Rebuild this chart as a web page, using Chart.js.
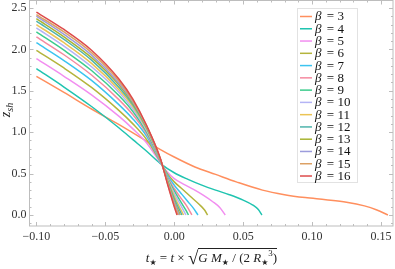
<!DOCTYPE html>
<html>
<head>
<meta charset="utf-8">
<script src="https://cdn.jsdelivr.net/npm/chart.js@4.4.1/dist/chart.umd.min.js"></script>
<style>
  body { margin: 0; background: #fff; }
  #wrap { position: relative; width: 395px; height: 269px; overflow: hidden; }
  #ytitle {
    position: absolute; left: -14px; top: 102px; width: 40px; height: 16px;
    transform: rotate(-90deg); text-align: center;
    font-family: "Liberation Serif", "Times New Roman", Times, serif; font-size: 14px; line-height: 16px; color: #222;
  }
  #ytitle sub { font-size: 10px; font-style: italic; vertical-align: -3px; line-height: 0; }
  #xtitle {
    position: absolute; left: 30px; width: 363px; top: 250px; text-align: center;
    font-family: "Liberation Serif", "Times New Roman", Times, serif; font-size: 13px; line-height: 16px; color: #222;
    white-space: nowrap;
  }
  #xtitle sub { font-size: 8px; vertical-align: -3px; line-height: 0; font-family: "DejaVu Sans", sans-serif; }
  #xtitle sup { font-size: 9px; vertical-align: 6px; line-height: 0; }
  .rt { font-size: 19px; line-height: 0; vertical-align: -2px; }
  .rad { border-top: 1px solid #222; padding-top: 1px; }
</style>
</head>
<body>
<div id="wrap">
  <canvas id="chart" width="395" height="269"></canvas>
  <div id="ytitle"><i>z</i><sub>sh</sub></div>
  <div id="xtitle"><i>t</i><sub>★</sub> = <i>t</i> × <span class="rt">√</span><span class="rad"><i>G</i> <i>M</i><sub>★</sub> / (2 <i>R</i><sub>★</sub><sup>3</sup>)</span></div>
</div>
<script>
// valores de beta e as curvas z_sh(t*)
const betas = [3, 4, 5, 6, 7, 8, 9, 10, 11, 12, 13, 14, 15, 16];
const colors = ['#ff8f5e', '#20c4b0', '#f28ef0', '#b4b43c', '#3cc4f0', '#f58aa0', '#3ccc8c',
                '#b4b4f5', '#ebc455', '#4fb4ac', '#a8b432', '#9c9cdc', '#dca064', '#dd4b4b'];

const xTickVals = [-0.1, -0.05, 0, 0.05, 0.1, 0.15];
const yTickVals = [0, 0.5, 1, 1.5, 2, 2.5];

const tPre = [-0.1, -0.08, -0.06, -0.04, -0.03, -0.02, -0.01, -0.005, 0.0];

const t3 = [-0.1, -0.08, -0.06, -0.04, -0.02, -0.01, 0.0, 0.015, 0.03, 0.045, 0.064, 0.08, 0.095, 0.11, 0.125, 0.138, 0.147, 0.155];
const z3 = [1.675, 1.48, 1.28, 1.09, 0.89, 0.79, 0.70, 0.58, 0.49, 0.40, 0.30, 0.245, 0.21, 0.185, 0.155, 0.11, 0.06, 0.0];

const t4 = [-0.1, -0.08, -0.06, -0.04, -0.03, -0.02, -0.01, 0.0, 0.01, 0.02, 0.03, 0.04, 0.05, 0.057, 0.061, 0.0636];
const z4 = [1.767, 1.545, 1.31, 1.05, 0.91, 0.77, 0.62, 0.51, 0.43, 0.36, 0.30, 0.245, 0.18, 0.12, 0.065, 0.0];

const t5 = [...tPre, 0.007, 0.014, 0.021, 0.028, 0.033, 0.037];
const z5 = [1.888, 1.675, 1.45, 1.19, 1.04, 0.87, 0.63, 0.52, 0.44, 0.37, 0.31, 0.24, 0.16, 0.09, 0.0];

const t6 = [...tPre, 0.006, 0.012, 0.018, 0.022, 0.0242];
const z6 = [1.988, 1.775, 1.54, 1.26, 1.10, 0.91, 0.64, 0.50, 0.40, 0.31, 0.22, 0.13, 0.06, 0.0];

const t7 = [...tPre, 0.005, 0.01, 0.014, 0.0172];
const z7 = [2.08, 1.865, 1.625, 1.33, 1.16, 0.95, 0.645, 0.48, 0.36, 0.26, 0.16, 0.08, 0.0];

const t8 = [...tPre, 0.005, 0.009, 0.0128];
const z8 = [2.15, 1.935, 1.69, 1.39, 1.21, 0.98, 0.65, 0.46, 0.32, 0.20, 0.11, 0.0];

const t9 = [...tPre, 0.004, 0.008, 0.0104];
const z9 = [2.21, 1.99, 1.745, 1.44, 1.25, 1.00, 0.655, 0.45, 0.29, 0.18, 0.07, 0.0];

const t10 = [...tPre, 0.004, 0.0085];
const z10 = [2.26, 2.04, 1.79, 1.48, 1.28, 1.02, 0.66, 0.44, 0.26, 0.14, 0.0];

const t11 = [...tPre, 0.004, 0.0068];
const z11 = [2.30, 2.08, 1.83, 1.51, 1.31, 1.035, 0.665, 0.43, 0.23, 0.09, 0.0];

const t12 = [...tPre, 0.003, 0.0056];
const z12 = [2.34, 2.12, 1.87, 1.54, 1.33, 1.05, 0.665, 0.42, 0.20, 0.09, 0.0];

const t13 = [...tPre, 0.0043];
const z13 = [2.37, 2.15, 1.90, 1.57, 1.35, 1.06, 0.67, 0.41, 0.17, 0.0];

const t14 = [...tPre, 0.0036];
const z14 = [2.40, 2.18, 1.93, 1.59, 1.365, 1.07, 0.67, 0.40, 0.15, 0.0];

const t15 = [...tPre, 0.0029];
const z15 = [2.42, 2.21, 1.96, 1.615, 1.38, 1.075, 0.675, 0.39, 0.12, 0.0];

const t16 = [...tPre, 0.002];
const z16 = [2.45, 2.24, 1.99, 1.64, 1.40, 1.08, 0.68, 0.38, 0.10, 0.0];

const tList = [t3, t4, t5, t6, t7, t8, t9, t10, t11, t12, t13, t14, t15, t16];
const zList = [z3, z4, z5, z6, z7, z8, z9, z10, z11, z12, z13, z14, z15, z16];

const datasets = betas.map(function(b, i) {
  return {
    label: 'β = ' + b,
    data: tList[i].map(function(t, k) { return { x: t, y: zList[i][k] }; }),
    borderColor: colors[i],
    backgroundColor: colors[i],
    borderWidth: 1.5,
    pointRadius: 0,
    cubicInterpolationMode: 'monotone',
    order: 20 - b
  };
});

const serif = '"Liberation Serif", "Times New Roman", Times, serif';
const tickFont = { family: serif, size: 12 };
const fmt = function(v, d) {
  const s = Math.abs(v).toFixed(d);
  return v < -1e-9 ? '−' + s : s;
};

// moldura com marcas de escala para dentro, como no Mathematica
const framePlugin = {
  id: 'frame',
  afterDatasetsDraw(chart) {
    const { ctx, chartArea: a, scales } = chart;
    ctx.save();
    ctx.strokeStyle = '#bdbdbd';
    ctx.lineWidth = 1;
    ctx.strokeRect(a.left, a.top, a.right - a.left, a.bottom - a.top);
    ctx.beginPath();
    for (let k = -10; k <= 15; k++) {
      const v = k / 100;
      const x = Math.round(scales.x.getPixelForValue(v)) + 0.5;
      const len = (k % 5 === 0) ? 4 : 2;
      ctx.moveTo(x, a.bottom); ctx.lineTo(x, a.bottom - len);
      ctx.moveTo(x, a.top); ctx.lineTo(x, a.top + len);
    }
    for (let k = -1; k <= 25; k++) {
      const v = k / 10;
      const y = Math.round(scales.y.getPixelForValue(v)) + 0.5;
      const len = (k % 5 === 0) ? 4 : 2;
      ctx.moveTo(a.left, y); ctx.lineTo(a.left + len, y);
      ctx.moveTo(a.right, y); ctx.lineTo(a.right - len, y);
    }
    ctx.stroke();
    ctx.restore();
  }
};

// legenda dentro da área do gráfico
const legendPlugin = {
  id: 'legendBox',
  afterDraw(chart) {
    const ctx = chart.ctx;
    const x0 = 297.5, y0 = 8.5, w = 60, h = 174;
    ctx.save();
    ctx.fillStyle = '#fff';
    ctx.fillRect(x0, y0, w, h);
    ctx.strokeStyle = '#e2e2e2';
    ctx.strokeRect(x0, y0, w, h);
    chart.data.datasets.forEach(function(ds, i) {
      const y = 16.5 + i * 12.27;
      ctx.strokeStyle = ds.borderColor;
      ctx.lineWidth = 1.5;
      ctx.beginPath();
      ctx.moveTo(300, y); ctx.lineTo(312, y);
      ctx.stroke();
      ctx.fillStyle = '#111';
      ctx.textBaseline = 'middle';
      ctx.font = 'italic 13px ' + serif;
      ctx.textAlign = 'left';
      ctx.fillText('β', 315, y + 0.5);
      ctx.font = '13px ' + serif;
      ctx.textAlign = 'center';
      ctx.fillText('=', 330.5, y + 0.5);
      ctx.textAlign = 'left';
      ctx.fillText(String(betas[i]), 337.5, y + 0.5);
    });
    ctx.restore();
  }
};

new Chart(document.getElementById('chart').getContext('2d'), {
  type: 'line',
  data: { datasets: datasets },
  options: {
    responsive: false,
    animation: false,
    devicePixelRatio: 1,
    layout: { autoPadding: false, padding: { top: 0.5, right: 2, left: 0, bottom: 0 } },
    plugins: { legend: { display: false }, tooltip: { enabled: false } },
    scales: {
      x: {
        type: 'linear', min: -0.105, max: 0.1587,
        afterBuildTicks: function(axis) { axis.ticks = xTickVals.map(function(v) { return { value: v }; }); },
        afterFit: function(axis) {
          axis.height = 43;
          axis.paddingLeft = 0; axis.paddingRight = 0;
        },
        grid: { display: false, drawTicks: false }, border: { display: false },
        ticks: { font: tickFont, color: '#333', padding: 4, maxRotation: 0, autoSkip: false,
                 callback: function(v) { return fmt(v, 2); } }
      },
      y: {
        type: 'linear', min: -0.133, max: 2.59,
        afterBuildTicks: function(axis) { axis.ticks = yTickVals.map(function(v) { return { value: v }; }); },
        afterFit: function(axis) {
          axis.width = 29.5;
          axis.paddingTop = 0; axis.paddingBottom = 0;
        },
        grid: { display: false, drawTicks: false }, border: { display: false },
        ticks: { font: tickFont, color: '#333', padding: 3, autoSkip: false,
                 callback: function(v) { return fmt(v, 1); } }
      }
    }
  },
  plugins: [framePlugin, legendPlugin]
});
</script>
</body>
</html>
